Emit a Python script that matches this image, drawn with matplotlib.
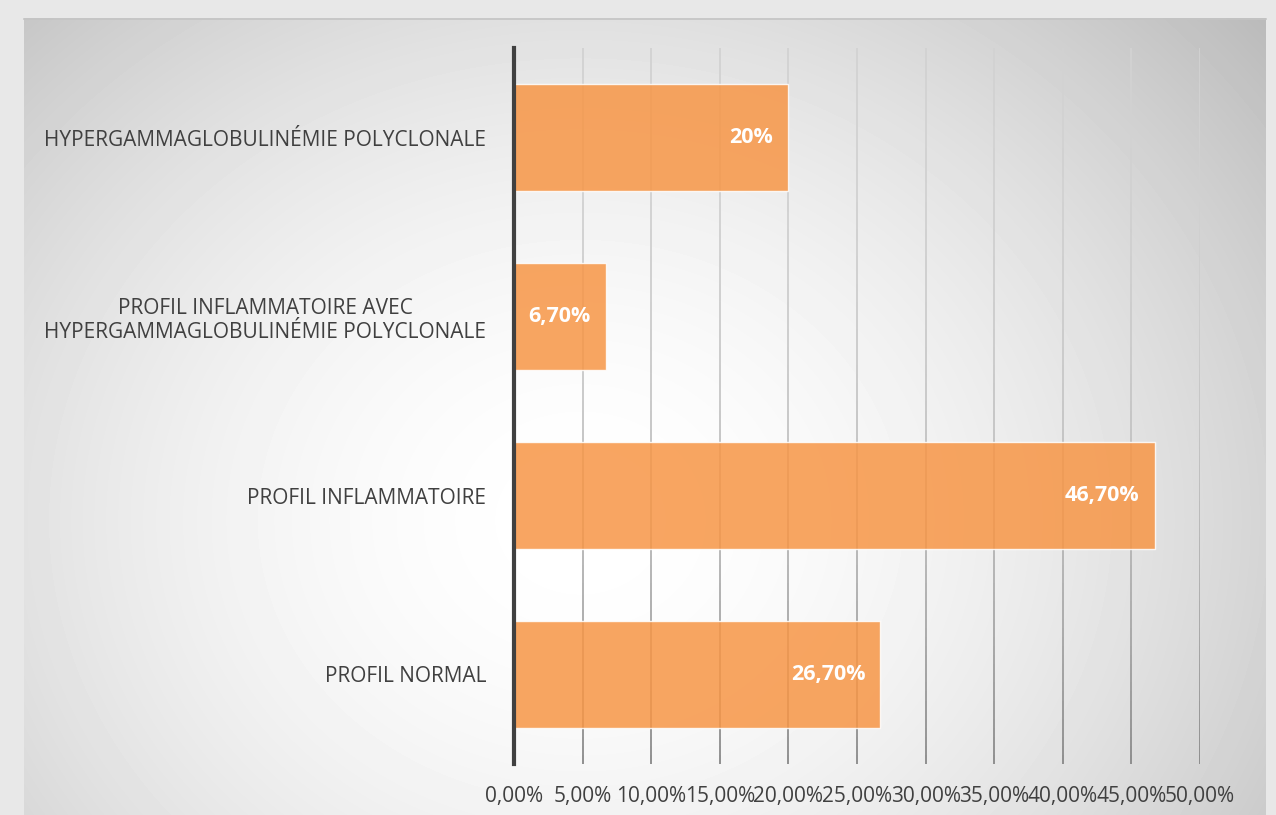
import matplotlib.pyplot as plt
import numpy as np
from matplotlib.collections import LineCollection

# chart data, top to bottom as shown
categories = [
    'HYPERGAMMAGLOBULINÉMIE POLYCLONALE',
    'PROFIL INFLAMMATOIRE AVEC\nHYPERGAMMAGLOBULINÉMIE POLYCLONALE',
    'PROFIL INFLAMMATOIRE',
    'PROFIL NORMAL',
]
values = [20.0, 6.7, 46.7, 26.7]
value_labels = ['20%', '6,70%', '46,70%', '26,70%']
x_ticks = [0, 5, 10, 15, 20, 25, 30, 35, 40, 45, 50]
x_tick_labels = ['%d,00%%' % t for t in x_ticks]

plt.rcParams['font.family'] = ['Open Sans', 'DejaVu Sans']

W, H = 1276, 815
fig = plt.figure(figsize=(W / 100, H / 100), dpi=100)
fig.patch.set_facecolor('#e8e8e8')

# gradient panel behind the chart
bg = fig.add_axes([0, 0, 1, 1], zorder=0)
bg.set_xlim(0, W)
bg.set_ylim(H, 0)
bg.axis('off')
px0, px1, py0, py1 = 24, 1266, 18, H
xx, yy = np.meshgrid(np.arange(px0, px1), np.arange(py0, py1))
cx, cy = 580, 520
r = np.hypot(xx - cx, (yy - cy) * 1.15)
r = r / r.max()
shade = 1 - 0.27 * r ** 1.8
bg.imshow(shade, cmap='gray', vmin=0, vmax=1,
          extent=(px0, px1, py1, py0), aspect='auto', interpolation='bilinear')
bg.plot([px0, px1], [py0 + 0.5, py0 + 0.5], color='#c4c4c4', lw=1.2)

ax = fig.add_axes([514 / W, (H - 764) / H, (1200 - 514) / W, (764 - 48) / H], zorder=1)
ax.patch.set_alpha(0)

n = len(categories)
ypos = np.arange(n)
ax.set_xlim(0, 50)
ax.set_ylim(n - 0.5, -0.5)

# vertical gridlines, lighter at the top and darker towards the bottom
steps = np.linspace(-0.5, n - 0.5, 80)
segs, cols = [], []
for t in x_ticks[1:]:
    for y0, y1 in zip(steps[:-1], steps[1:]):
        frac = ((y0 + y1) / 2 + 0.5) / n
        g = (210 - 75 * frac ** 2.5) / 255
        segs.append([(t, y0), (t, y1)])
        cols.append((g, g, g))
ax.add_collection(LineCollection(segs, colors=cols, linewidths=1.3, zorder=1))

bars = ax.barh(ypos, values, height=0.6, color='#F79646', alpha=0.85,
               edgecolor=(1, 1, 1, 0.6), linewidth=1, zorder=3)

for b, lab in zip(bars, value_labels):
    ax.text(b.get_width() - 1.1, b.get_y() + b.get_height() / 2, lab,
            ha='right', va='center', color='white', fontsize=15.5,
            fontweight='bold', zorder=4)

ax.set_xticks(x_ticks)
ax.set_xticklabels(x_tick_labels)
ax.set_yticks(ypos)
ax.set_yticklabels(categories, multialignment='center')
ax.tick_params(axis='x', length=0, pad=16, labelsize=15, labelcolor='#404040')
ax.tick_params(axis='y', length=0, pad=20, labelsize=15, labelcolor='#404040')

for s in ['top', 'right', 'bottom']:
    ax.spines[s].set_visible(False)
ax.spines['left'].set_color('#404040')
ax.spines['left'].set_linewidth(3)
ax.spines['left'].set_zorder(5)

fig.savefig('out.png', dpi=100)
